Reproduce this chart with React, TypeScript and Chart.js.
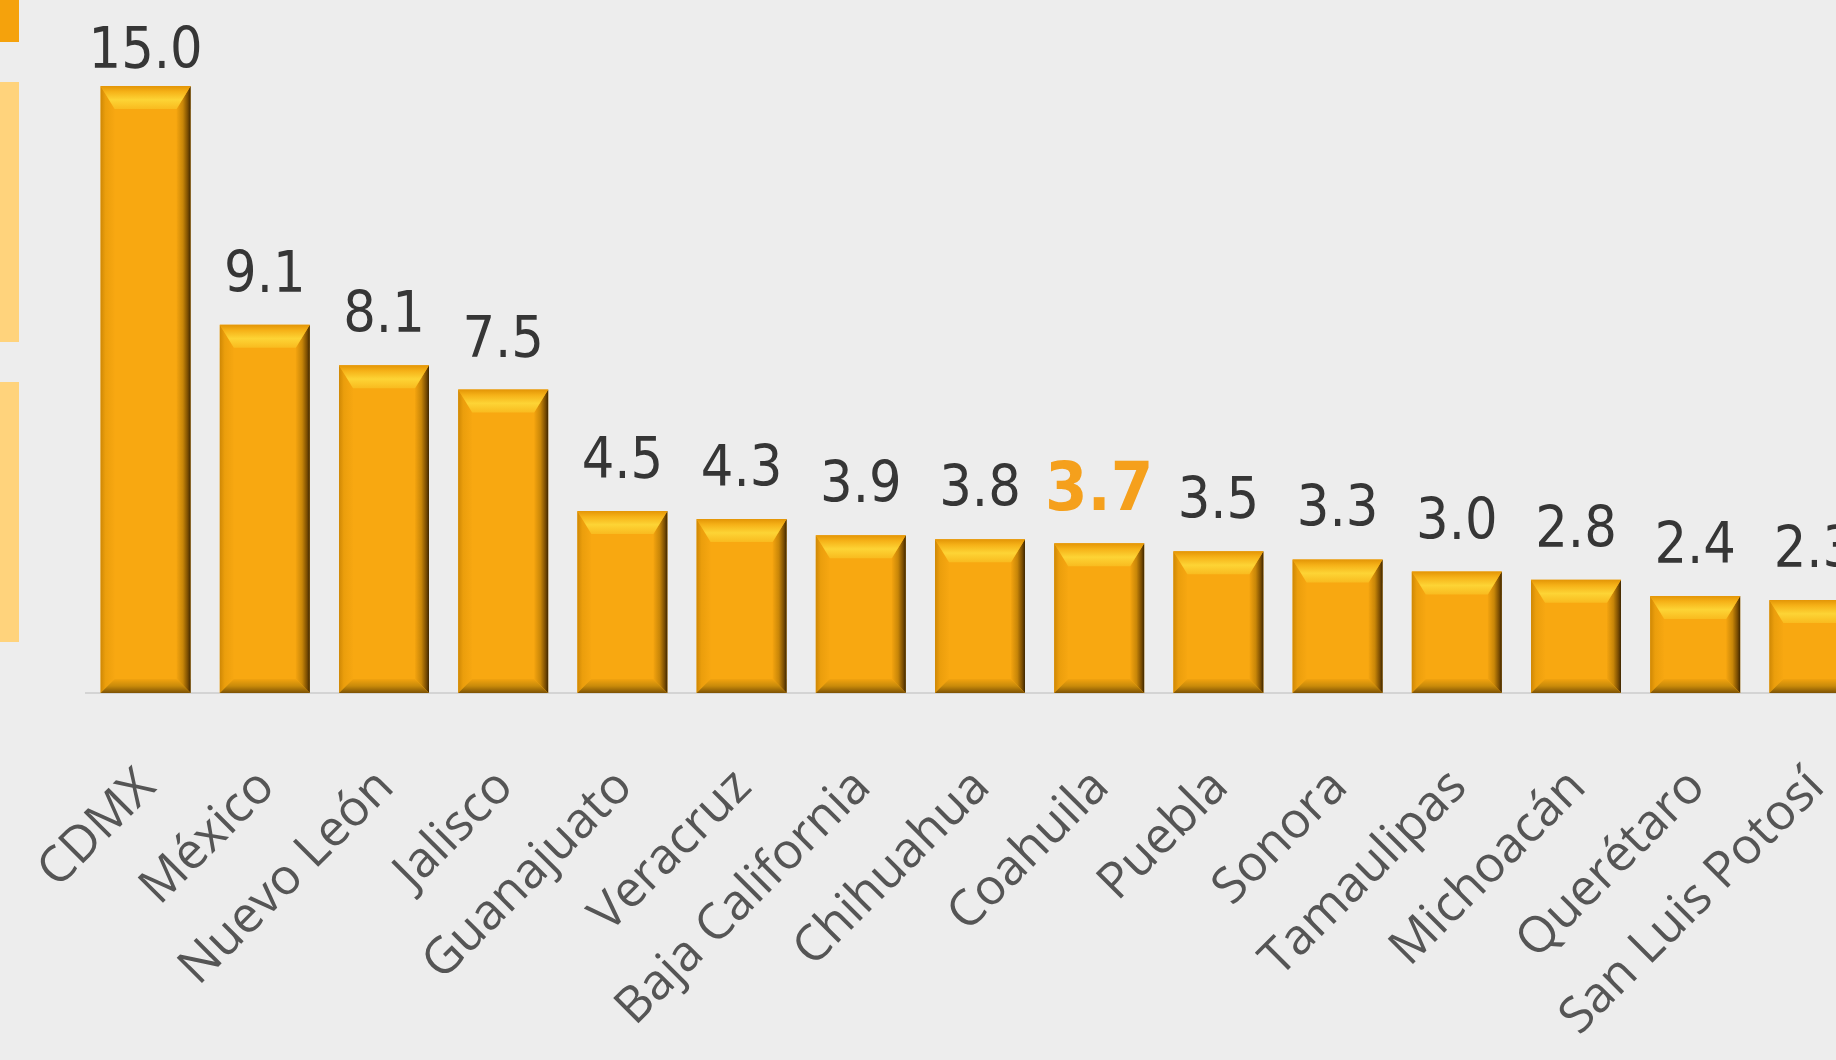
import React, { useEffect, useRef } from "react";
import { Chart, registerables } from "chart.js";

Chart.register(...registerables);

const categories = [
  "CDMX",
  "México",
  "Nuevo León",
  "Jalisco",
  "Guanajuato",
  "Veracruz",
  "Baja California",
  "Chihuahua",
  "Coahuila",
  "Puebla",
  "Sonora",
  "Tamaulipas",
  "Michoacán",
  "Querétaro",
  "San Luis Potosí",
];
const values = [15.0, 9.1, 8.1, 7.5, 4.5, 4.3, 3.9, 3.8, 3.7, 3.5, 3.3, 3.0, 2.8, 2.4, 2.3];
const highlighted = ["Coahuila"];

const CANVAS_W = 1900;
const CANVAS_H = 1060;

const VALUE_FONT = '"DejaVu Sans Condensed", "Liberation Sans Narrow", sans-serif';
const CAT_FONT = '"Open Sans", "Noto Sans", sans-serif';

const bevelPlugin = {
  id: "bevel",
  afterDatasetsDraw(chart: any) {
    const ctx = chart.ctx as CanvasRenderingContext2D;
    const meta = chart.getDatasetMeta(0);
    meta.data.forEach((el: any) => {
      const p = el.getProps(["x", "y", "base", "width"], true);
      const L = p.x - p.width / 2;
      const R = p.x + p.width / 2;
      const T = Math.min(p.y, p.base);
      const B = Math.max(p.y, p.base);
      const bx = 14;
      const byT = 23;
      const byB = 14;
      ctx.save();
      // left side
      let g = ctx.createLinearGradient(L, 0, L + bx, 0);
      g.addColorStop(0, "#cf8805");
      g.addColorStop(0.35, "#eb9e0c");
      g.addColorStop(1, "#f7a711");
      ctx.fillStyle = g;
      ctx.beginPath();
      ctx.moveTo(L, T);
      ctx.lineTo(L + bx, T + byT);
      ctx.lineTo(L + bx, B - byB);
      ctx.lineTo(L, B);
      ctx.closePath();
      ctx.fill();
      // right side
      g = ctx.createLinearGradient(R - bx, 0, R, 0);
      g.addColorStop(0, "#f4a40f");
      g.addColorStop(0.45, "#c88608");
      g.addColorStop(0.8, "#7a4d02");
      g.addColorStop(1, "#3e2600");
      ctx.fillStyle = g;
      ctx.beginPath();
      ctx.moveTo(R, T);
      ctx.lineTo(R, B);
      ctx.lineTo(R - bx, B - byB);
      ctx.lineTo(R - bx, T + byT);
      ctx.closePath();
      ctx.fill();
      // bottom
      g = ctx.createLinearGradient(0, B - byB, 0, B);
      g.addColorStop(0, "#f2a30f");
      g.addColorStop(0.5, "#c88a0a");
      g.addColorStop(1, "#7d5204");
      ctx.fillStyle = g;
      ctx.beginPath();
      ctx.moveTo(L, B);
      ctx.lineTo(R, B);
      ctx.lineTo(R - bx, B - byB);
      ctx.lineTo(L + bx, B - byB);
      ctx.closePath();
      ctx.fill();
      // top
      g = ctx.createLinearGradient(0, T, 0, T + byT);
      g.addColorStop(0, "#e39506");
      g.addColorStop(0.25, "#f6b218");
      g.addColorStop(0.6, "#fdd435");
      g.addColorStop(1, "#f9bb1f");
      ctx.fillStyle = g;
      ctx.beginPath();
      ctx.moveTo(L, T);
      ctx.lineTo(R, T);
      ctx.lineTo(R - bx, T + byT);
      ctx.lineTo(L + bx, T + byT);
      ctx.closePath();
      ctx.fill();
      ctx.restore();
    });
  },
};

const labelPlugin = {
  id: "labels",
  afterDraw(chart: any) {
    const ctx = chart.ctx as CanvasRenderingContext2D;
    const meta = chart.getDatasetMeta(0);
    const xScale = chart.scales.x;
    const area = chart.chartArea;
    ctx.save();
    // value labels
    meta.data.forEach((el: any, i: number) => {
      const p = el.getProps(["x", "y"], true);
      const hi = highlighted.includes(categories[i]);
      ctx.font = hi ? `bold 68px ${VALUE_FONT}` : `normal 57px ${VALUE_FONT}`;
      ctx.fillStyle = hi ? "#f5a01c" : "#363636";
      ctx.textAlign = "center";
      ctx.textBaseline = "alphabetic";
      const baseline = Math.max(p.y - 33, area.top - 18);
      ctx.fillText(values[i].toFixed(1), p.x, baseline);
    });
    // category labels (rotated 45°)
    ctx.font = `normal 50px ${CAT_FONT}`;
    ctx.fillStyle = "#555555";
    ctx.textAlign = "right";
    ctx.textBaseline = "alphabetic";
    categories.forEach((c, i) => {
      const x = xScale.getPixelForValue(i);
      ctx.save();
      ctx.translate(x + 12, xScale.top + 96);
      ctx.rotate(-Math.PI / 4);
      ctx.fillText(c, 0, 0);
      ctx.restore();
    });
    ctx.restore();
  },
};

export default function App() {
  const ref = useRef<HTMLCanvasElement | null>(null);

  useEffect(() => {
    if (!ref.current) return;
    const chart = new Chart(ref.current, {
      type: "bar",
      data: {
        labels: categories,
        datasets: [
          {
            data: values,
            backgroundColor: "#f8a811",
            borderWidth: 0,
            barPercentage: 0.755,
            categoryPercentage: 1,
          },
        ],
      },
      options: {
        animation: false,
        responsive: false,
        devicePixelRatio: 1,
        layout: {
          padding: { left: 86, top: 86, right: CANVAS_W - 86 - 15 * 119.2, bottom: 0 },
        },
        plugins: {
          legend: { display: false },
          tooltip: { enabled: false },
        },
        scales: {
          x: {
            type: "category",
            grid: { display: false },
            border: { display: true, color: "#d4d4d4", width: 2 },
            ticks: { display: false },
            afterFit: (s: any) => {
              s.height = CANVAS_H - 693;
            },
          },
          y: {
            display: false,
            min: 0,
            max: 15,
          },
        },
      },
      plugins: [bevelPlugin, labelPlugin],
    });
    return () => chart.destroy();
  }, []);

  return (
    <div
      style={{
        position: "fixed",
        left: 0,
        top: 0,
        width: 1836,
        height: 1060,
        overflow: "hidden",
        background: "#ededed",
      }}
    >
      <div style={{ position: "absolute", left: 0, top: 0, width: 19, height: 42, background: "#f5a20c" }} />
      <div style={{ position: "absolute", left: 0, top: 82, width: 19, height: 260, background: "#ffd37c" }} />
      <div style={{ position: "absolute", left: 0, top: 382, width: 19, height: 260, background: "#ffd37c" }} />
      <canvas
        ref={ref}
        width={CANVAS_W}
        height={CANVAS_H}
        style={{ position: "absolute", left: 0, top: 0, width: CANVAS_W, height: CANVAS_H, display: "block" }}
      />
    </div>
  );
}
